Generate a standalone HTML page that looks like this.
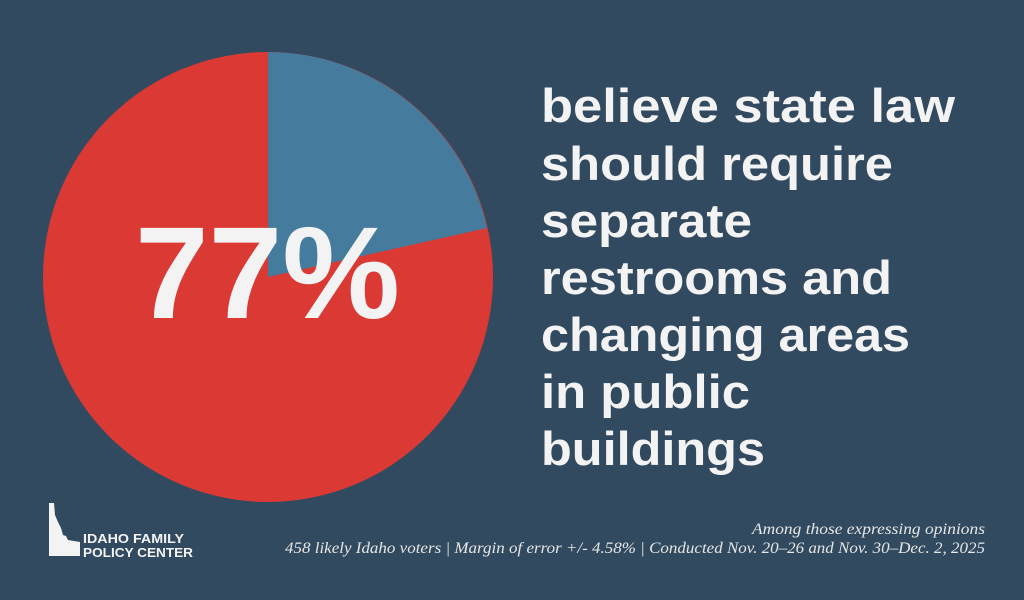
<!DOCTYPE html>
<html><head><meta charset="utf-8"><style>
html,body{margin:0;padding:0;background:#324a5f;}
svg{display:block}
</style></head><body>
<svg width="1024" height="600" xmlns="http://www.w3.org/2000/svg">
<rect width="1024" height="600" fill="#324a5f"/>
<circle cx="268" cy="277" r="225" fill="#db3a34"/>
<path d="M268,277 L268,52 A225,225 0 0,1 487,228 Z" fill="#457b9d"/>
<text x="135" y="318" font-family="Liberation Sans, sans-serif" font-weight="bold" font-size="131" fill="#f3f3f3" textLength="265" lengthAdjust="spacingAndGlyphs">77%</text>
<g font-family="Liberation Sans, sans-serif" font-weight="bold" font-size="47" fill="#f3f3f3">
<text x="541" y="122" textLength="414" lengthAdjust="spacingAndGlyphs">believe state law</text>
<text x="541" y="180" textLength="352" lengthAdjust="spacingAndGlyphs">should require</text>
<text x="541" y="237" textLength="211" lengthAdjust="spacingAndGlyphs">separate</text>
<text x="541" y="294" textLength="351" lengthAdjust="spacingAndGlyphs">restrooms and</text>
<text x="541" y="351" textLength="369" lengthAdjust="spacingAndGlyphs">changing areas</text>
<text x="541" y="408" textLength="209" lengthAdjust="spacingAndGlyphs">in public</text>
<text x="541" y="465" textLength="224" lengthAdjust="spacingAndGlyphs">buildings</text>
</g>
<g font-family="Liberation Serif, serif" font-style="italic" font-size="15.5" fill="#e6e6e6" text-anchor="end">
<text x="985" y="534" textLength="233" lengthAdjust="spacingAndGlyphs">Among those expressing opinions</text>
<text x="985" y="553" textLength="700" lengthAdjust="spacingAndGlyphs">458 likely Idaho voters | Margin of error +/- 4.58% | Conducted Nov. 20–26 and Nov. 30–Dec. 2, 2025</text>
</g>
<path d="M49,503 L54,503 L55,515 L58,522 L61,528 L63,535 L66,536 L68,540 L80,542 L80,556 L49,556 Z" fill="#f3f3f3"/>
<g font-family="Liberation Sans, sans-serif" font-weight="bold" font-size="12.5" fill="#f3f3f3">
<text x="83" y="543" textLength="101" lengthAdjust="spacingAndGlyphs">IDAHO FAMILY</text>
<text x="83" y="557" textLength="110" lengthAdjust="spacingAndGlyphs">POLICY CENTER</text>
</g>
</svg>
</body></html>
